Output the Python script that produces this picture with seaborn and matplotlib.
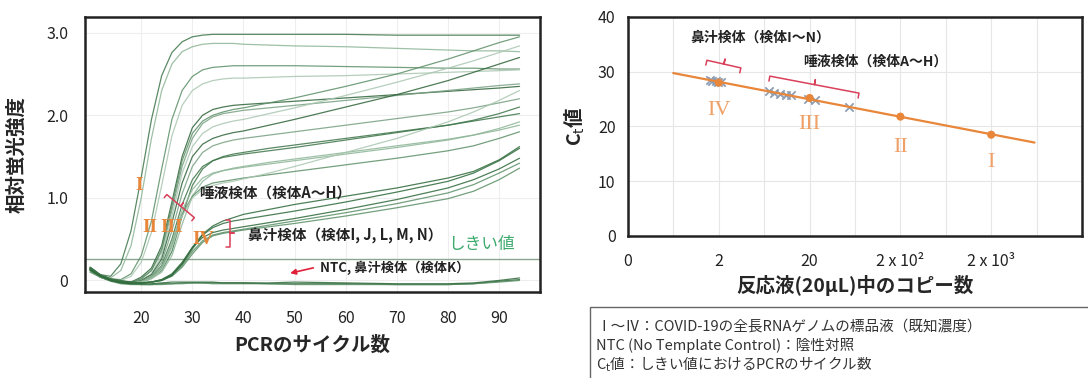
import numpy as np
import pandas as pd
import matplotlib
matplotlib.use("Agg")
import matplotlib.pyplot as plt
import matplotlib.ticker as mticker
from matplotlib.patches import Rectangle
import seaborn as sns

sns.set_theme(style="white")
plt.rcParams['font.family'] = ['Noto Sans CJK JP', 'DejaVu Sans']
plt.rcParams['axes.unicode_minus'] = False

# -----------------------------
# DATA : amplification curves
# -----------------------------
cycles = [10, 12, 14, 16, 18, 20, 22, 24, 26, 28, 30, 32, 34, 36, 38, 40, 45, 50, 60, 70, 80, 85, 90, 94]

std_curves = [  # I, I, II, II, III, III, IV, IV
    [0.16, 0.07, 0.05, 0.20, 0.60, 1.25, 1.95, 2.48, 2.76, 2.89, 2.95, 2.97, 2.98, 2.98, 2.98, 2.98, 2.98, 2.98, 2.98, 2.97, 2.97, 2.97, 2.97, 2.97],
    [0.15, 0.06, 0.03, 0.12, 0.42, 1.00, 1.72, 2.30, 2.62, 2.77, 2.83, 2.86, 2.87, 2.87, 2.87, 2.86, 2.85, 2.84, 2.83, 2.81, 2.79, 2.78, 2.78, 2.77],
    [0.14, 0.06, 0.02, 0.01, 0.08, 0.30, 0.72, 1.35, 1.95, 2.30, 2.47, 2.55, 2.58, 2.59, 2.60, 2.60, 2.60, 2.60, 2.59, 2.58, 2.57, 2.57, 2.56, 2.56],
    [0.13, 0.05, 0.01, 0.00, 0.05, 0.22, 0.58, 1.15, 1.75, 2.12, 2.30, 2.38, 2.42, 2.44, 2.45, 2.45, 2.46, 2.47, 2.48, 2.50, 2.52, 2.53, 2.54, 2.55],
    [0.14, 0.05, 0.00, -0.02, -0.02, 0.04, 0.15, 0.42, 0.95, 1.50, 1.85, 2.00, 2.07, 2.10, 2.12, 2.13, 2.15, 2.17, 2.21, 2.25, 2.29, 2.31, 2.33, 2.35],
    [0.12, 0.04, 0.00, -0.02, -0.03, 0.02, 0.12, 0.35, 0.85, 1.38, 1.72, 1.90, 1.98, 2.02, 2.04, 2.06, 2.09, 2.12, 2.18, 2.24, 2.30, 2.33, 2.36, 2.38],
    [0.13, 0.05, 0.00, -0.02, -0.03, -0.02, 0.03, 0.12, 0.35, 0.78, 1.15, 1.35, 1.45, 1.50, 1.53, 1.55, 1.60, 1.64, 1.72, 1.80, 1.88, 1.93, 1.98, 2.02],
    [0.12, 0.04, 0.00, -0.02, -0.03, -0.02, 0.02, 0.10, 0.30, 0.68, 1.02, 1.20, 1.29, 1.33, 1.36, 1.38, 1.43, 1.47, 1.55, 1.63, 1.71, 1.76, 1.82, 1.88],
]

saliva_curves = [  # A - H
    [0.15, 0.06, 0.01, -0.01, -0.02, 0.02, 0.12, 0.38, 0.90, 1.45, 1.78, 1.93, 2.00, 2.04, 2.07, 2.09, 2.15, 2.21, 2.35, 2.50, 2.68, 2.78, 2.88, 2.95],
    [0.14, 0.05, 0.00, -0.02, -0.03, 0.00, 0.08, 0.30, 0.78, 1.30, 1.62, 1.78, 1.86, 1.90, 1.93, 1.95, 2.02, 2.09, 2.24, 2.40, 2.57, 2.66, 2.76, 2.84],
    [0.14, 0.05, 0.00, -0.02, -0.03, 0.00, 0.07, 0.26, 0.70, 1.18, 1.50, 1.65, 1.72, 1.76, 1.79, 1.81, 1.88, 1.95, 2.10, 2.25, 2.42, 2.52, 2.62, 2.70],
    [0.13, 0.05, 0.00, -0.02, -0.03, -0.01, 0.05, 0.22, 0.60, 1.05, 1.38, 1.55, 1.63, 1.67, 1.70, 1.72, 1.76, 1.80, 1.88, 1.96, 2.04, 2.09, 2.15, 2.20],
    [0.13, 0.04, 0.00, -0.02, -0.03, -0.01, 0.04, 0.18, 0.50, 0.92, 1.22, 1.38, 1.45, 1.49, 1.51, 1.53, 1.57, 1.61, 1.70, 1.79, 1.88, 1.94, 2.02, 2.10],
    [0.13, 0.04, 0.00, -0.02, -0.03, -0.01, 0.04, 0.16, 0.46, 0.85, 1.10, 1.24, 1.30, 1.33, 1.35, 1.37, 1.41, 1.45, 1.53, 1.61, 1.70, 1.76, 1.84, 1.92],
    [0.12, 0.04, 0.00, -0.02, -0.03, -0.02, 0.03, 0.14, 0.42, 0.80, 1.02, 1.13, 1.18, 1.20, 1.22, 1.24, 1.28, 1.32, 1.40, 1.48, 1.57, 1.63, 1.72, 1.80],
    [0.12, 0.04, 0.00, -0.02, -0.03, -0.02, 0.03, 0.13, 0.40, 0.78, 1.00, 1.10, 1.15, 1.18, 1.20, 1.23, 1.30, 1.38, 1.55, 1.72, 1.92, 2.04, 2.18, 2.30],
]

nasal_curves = [  # I, J, L, M, N
    [0.16, 0.07, 0.02, 0.00, -0.02, -0.03, -0.02, 0.01, 0.08, 0.22, 0.40, 0.52, 0.58, 0.61, 0.63, 0.65, 0.70, 0.75, 0.86, 0.98, 1.12, 1.22, 1.35, 1.48],
    [0.15, 0.06, 0.01, -0.01, -0.02, -0.03, -0.02, 0.00, 0.06, 0.18, 0.35, 0.48, 0.55, 0.58, 0.60, 0.62, 0.67, 0.72, 0.82, 0.93, 1.06, 1.16, 1.30, 1.42],
    [0.15, 0.06, 0.01, -0.01, -0.02, -0.03, -0.02, 0.01, 0.07, 0.20, 0.38, 0.55, 0.64, 0.69, 0.72, 0.74, 0.79, 0.84, 0.95, 1.07, 1.20, 1.30, 1.45, 1.60],
    [0.14, 0.05, 0.00, -0.02, -0.03, -0.03, -0.02, 0.00, 0.05, 0.16, 0.32, 0.46, 0.54, 0.57, 0.59, 0.61, 0.65, 0.69, 0.78, 0.88, 0.99, 1.08, 1.22, 1.36],
    [0.14, 0.05, 0.00, -0.02, -0.03, -0.03, -0.02, 0.00, 0.06, 0.20, 0.40, 0.56, 0.66, 0.72, 0.76, 0.80, 0.86, 0.92, 1.02, 1.12, 1.24, 1.32, 1.46, 1.62],
]

ntc_curves = [  # NTC x2, nasal K
    [0.12, 0.05, 0.00, -0.03, -0.04, -0.05, -0.05, -0.04, -0.04, -0.03, -0.03, -0.03, -0.03, -0.03, -0.03, -0.03, -0.04, -0.04, -0.04, -0.05, -0.05, -0.04, -0.01, 0.01],
    [0.10, 0.04, -0.01, -0.04, -0.05, -0.05, -0.05, -0.05, -0.04, -0.04, -0.03, -0.03, -0.04, -0.04, -0.04, -0.04, -0.04, -0.05, -0.05, -0.05, -0.05, -0.04, -0.02, 0.00],
    [0.13, 0.05, 0.00, -0.03, -0.04, -0.04, -0.04, -0.03, -0.02, -0.02, -0.02, -0.02, -0.02, -0.03, -0.03, -0.03, -0.03, -0.02, -0.03, -0.04, -0.04, -0.03, 0.00, 0.03],
]

threshold = 0.26

# -----------------------------
# DATA : standard curve (Ct vs copies)
# -----------------------------
std_copies = [2, 20, 200, 2000]
std_ct = [28.0, 25.2, 21.8, 18.5]
std_labels = ['IV', 'III', 'II', 'I']

nasal_copies = [1.6, 1.7, 1.85, 1.95, 2.1]
nasal_ct = [28.5, 28.4, 28.3, 28.2, 28.1]
saliva_copies = [7.2, 8.2, 9.5, 11.0, 12.5, 19.0, 23.0, 55.0]
saliva_ct = [26.4, 26.2, 26.0, 25.8, 25.7, 25.1, 24.8, 23.6]

x_ticks = [0.2, 2, 20, 200, 2000, 20000]
x_ticklabels = ['0', '2', '20', '2 x 10²', '2 x 10³', '']

# -----------------------------
# LONG TABLE FOR SEABORN
# -----------------------------
rows = []
groups = [('std', std_curves), ('sal', saliva_curves), ('nas', nasal_curves), ('ntc', ntc_curves)]
for gname, curves in groups:
    for i, vals in enumerate(curves):
        for c, v in zip(cycles, vals):
            rows.append({'well': f'{gname}{i}', 'cycle': c, 'rfu': v})
df = pd.DataFrame(rows)

greens = ['#3d7549', '#8db597', '#5d8f68', '#a9c6b0', '#2f6439', '#779f81']
wells = list(dict.fromkeys(df['well']))
pal = {w: greens[i % len(greens)] for i, w in enumerate(wells)}
for w in wells:
    if w.startswith('ntc') or w.startswith('nas'):
        pal[w] = '#2f6a3b' if w.endswith(('0', '2', '4')) else '#5a8f66'

ORANGE = '#E8863A'
RED = '#D9405A'

fig = plt.figure(figsize=(10.88, 3.78), dpi=100)
ax1 = fig.add_axes([85 / 1088, 86 / 378, 455 / 1088, 275 / 378])
ax2 = fig.add_axes([628 / 1088, 142 / 378, 454 / 1088, 219 / 378])


def brace(ax, p0, p1, hook, color=RED):
    # curly bracket between two data points, hook length in pixels
    tr = ax.transData
    a = tr.transform(p0)
    b = tr.transform(p1)
    d = (b - a) / np.hypot(*(b - a))
    n = np.array([-d[1], d[0]]) * hook
    m = (a + b) / 2
    pts = np.array([a + n, a, m, m - n, m, b, b + n])
    xy = tr.inverted().transform(pts)
    ax.plot(xy[:, 0], xy[:, 1], color=color, lw=1.1, clip_on=False, zorder=6)


# -----------------------------
# LEFT : AMPLIFICATION CURVES
# -----------------------------
sns.lineplot(data=df, x='cycle', y='rfu', hue='well', palette=pal, legend=False,
             estimator=None, sort=False, linewidth=0.9, alpha=0.85, ax=ax1)
ax1.axhline(threshold, color='#8aa590', lw=1.0, zorder=1)

ax1.set_xlim(9, 98)
ax1.set_ylim(-0.14, 3.19)
ax1.set_xticks([20, 30, 40, 50, 60, 70, 80, 90])
ax1.set_yticks([0, 1, 2, 3])
ax1.set_yticklabels(['0', '1.0', '2.0', '3.0'])
ax1.grid(True, color='#eeeeee', lw=0.8)
ax1.set_axisbelow(True)
ax1.tick_params(length=0, labelsize=11.5, colors='#222222')
ax1.tick_params(axis='x', pad=13)
ax1.tick_params(axis='y', pad=12)
ax1.set_xlabel('PCRのサイクル数', fontsize=14, fontweight='bold', labelpad=6)
ax1.set_ylabel('相対蛍光強度', fontsize=14, fontweight='bold', labelpad=14)
for s in ax1.spines.values():
    s.set_color('#222222')
    s.set_linewidth(1.8)

for txt, x, y in [('I', 19.6, 1.15), ('II', 21.7, 0.64), ('III', 26.0, 0.64), ('IV', 32.2, 0.50)]:
    ax1.text(x, y, txt, color=ORANGE, fontsize=14, fontweight='bold',
             family='Liberation Serif', ha='center', va='center')

ax1.text(31.3, 1.07, '唾液検体（検体A～H）', fontsize=10.5, fontweight='bold',
         color='#222222', ha='left', va='center')
ax1.text(40.8, 0.55, '鼻汁検体（検体I, J, L, M, N）', fontsize=10.5, fontweight='bold',
         color='#222222', ha='left', va='center')
ax1.text(80, 0.43, 'しきい値', fontsize=12, color='#3aa96c', ha='left', va='center')
ax1.text(54.9, 0.15, 'NTC, 鼻汁検体（検体K）', fontsize=9.5, fontweight='bold',
         color='#222222', ha='left', va='center')
ax1.annotate('', xy=(48.6, 0.08), xytext=(54.2, 0.16),
             arrowprops=dict(arrowstyle='-|>', color='#e0203a', lw=1.2, mutation_scale=8))

brace(ax1, (25.0, 1.04), (30.4, 0.76), -4)
brace(ax1, (37.4, 0.73), (37.4, 0.41), -4)

# -----------------------------
# RIGHT : STANDARD CURVE
# -----------------------------
slope, icpt = np.polyfit(np.log10(std_copies), std_ct, 1)
fit_x = np.geomspace(0.63, 6000, 60)
fit_y = slope * np.log10(fit_x) + icpt

ax2.set_xscale('log')
sns.scatterplot(x=nasal_copies + saliva_copies, y=nasal_ct + saliva_ct, marker='x',
                color='#8e9db3', s=36, linewidth=1.3, ax=ax2, zorder=2)
ax2.plot(fit_x, fit_y, color=ORANGE, lw=1.6, zorder=3)
sns.scatterplot(x=std_copies, y=std_ct, color=ORANGE, s=34, edgecolor='none', ax=ax2, zorder=4)

ax2.set_xlim(0.2, 20000)
ax2.set_ylim(0, 40)
ax2.set_xticks(x_ticks)
ax2.set_xticklabels(x_ticklabels)
half = [t * 10 ** 0.5 for t in x_ticks[:-1]]
ax2.xaxis.set_minor_locator(mticker.FixedLocator(half))
ax2.xaxis.set_minor_formatter(mticker.NullFormatter())
ax2.set_yticks([0, 10, 20, 30, 40])
ax2.grid(True, which='both', axis='x', color='#e6e6e6', lw=0.8)
ax2.grid(True, which='major', axis='y', color='#e6e6e6', lw=0.8)
ax2.set_axisbelow(True)
ax2.tick_params(which='both', length=0, labelsize=11.5, colors='#222222')
ax2.tick_params(axis='x', pad=12)
ax2.tick_params(axis='y', pad=9)
ax2.set_xlabel('反応液(20µL)中のコピー数', fontsize=14, fontweight='bold', labelpad=4)
ax2.set_ylabel('C$_\\mathrm{t}$値', fontsize=14, fontweight='bold', labelpad=8)
for s in ax2.spines.values():
    s.set_color('#222222')
    s.set_linewidth(1.8)

for txt, x, y in zip(std_labels, std_copies, [23.0, 20.3, 16.1, 13.5]):
    ax2.text(x, y, txt, color='#EFA066', fontsize=16, family='Liberation Serif',
             ha='center', va='center')

ax2.text(0.96, 36.3, '鼻汁検体（検体I～N）', fontsize=10, fontweight='bold',
         color='#222222', ha='left', va='center')
ax2.text(16.8, 31.8, '唾液検体（検体A～H）', fontsize=10, fontweight='bold',
         color='#222222', ha='left', va='center')
brace(ax2, (1.48, 32.1), (3.5, 30.7), -5)
brace(ax2, (7.3, 29.2), (70, 26.1), -5)

# -----------------------------
# NOTE BOX
# -----------------------------
fig.add_artist(Rectangle((590 / 1088, -0.05), 0.5, 71 / 378 + 0.05, transform=fig.transFigure,
                         fill=False, edgecolor='#666666', lw=1.0))
notes = ['Ⅰ～Ⅳ：COVID-19の全長RNAゲノムの標品液（既知濃度）',
         'NTC (No Template Control)：陰性対照',
         'C$_\\mathrm{t}$値：しきい値におけるPCRのサイクル数']
for i, t in enumerate(notes):
    fig.text(596 / 1088, (378 - 327 - 18.5 * i) / 378, t, fontsize=10.5,
             color='#333333', ha='left', va='center')

fig.savefig('out.png', dpi=100)
